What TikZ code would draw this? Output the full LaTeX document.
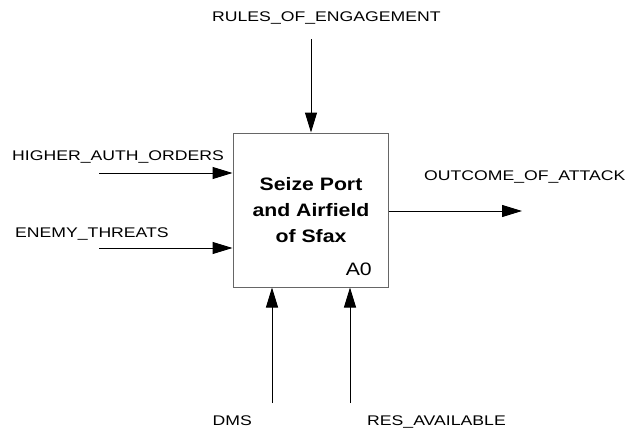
\documentclass[tikz,border=0pt]{standalone}
\usepackage{fontspec}
\newfontfamily\lblfont{Liberation Sans}[FakeStretch=1.26]
\newfontfamily\boxfont{Liberation Sans}[FakeStretch=1.18]
\usetikzlibrary{arrows.meta}
\tikzset{
	flow/.style={line width=1pt, color=black, -{Triangle[length=20pt,width=12pt]}},
	lbl/.style={anchor=base west, inner sep=0pt, font=\lblfont\fontsize{14}{17}\selectfont},
}

\begin{document}
\begin{tikzpicture}[x=1pt,y=-1pt]
		%%%%% START %%%%%
		\useasboundingbox (0,0) rectangle (630,431);
		
		% activity box
		\node[draw=black!60, line width=1pt, minimum width=155pt, minimum height=154pt, inner sep=0pt] (a0) at (310.5,210) {};
		\node[font=\boxfont\bfseries\fontsize{18}{26}\selectfont, align=center, inner sep=0pt] (title) at (311,210) {Seize Port\\and Airfield\\of Sfax};
		\node[anchor=base east, inner sep=0pt, font=\boxfont\fontsize{18}{22}\selectfont] (num) at (372,275) {A0};
		
		% free ends
		\coordinate (roe) at (311,39);
		\coordinate (hao) at (99,173);
		\coordinate (et) at (99,248);
		\coordinate (ooa) at (522,211);
		\coordinate (dms) at (272,403);
		\coordinate (res) at (350,403);
		
		% control, inputs, output, mechanisms
		\draw[flow] (roe) -- (roe |- a0.north);
		\draw[flow] (hao) -- (hao -| a0.west);
		\draw[flow] (et) -- (et -| a0.west);
		\draw[flow] (ooa -| a0.east) -- (ooa);
		\draw[flow] (dms) -- (dms |- a0.south);
		\draw[flow] (res) -- (res |- a0.south);
		
		% labels
		\node[lbl] (roe-l) at (212,21) {RULES\_OF\_ENGAGEMENT};
		\node[lbl] (hao-l) at (12,160) {HIGHER\_AUTH\_ORDERS};
		\node[lbl] (et-l) at (15,237) {ENEMY\_THREATS};
		\node[lbl] (ooa-l) at (424,180) {OUTCOME\_OF\_ATTACK};
		\node[lbl, anchor=base east] (dms-l) at (252,425) {DMS};
		\node[lbl] (res-l) at (367,425) {RES\_AVAILABLE};
		
		%%%%% END %%%%%
	\end{tikzpicture}
\end{document}
